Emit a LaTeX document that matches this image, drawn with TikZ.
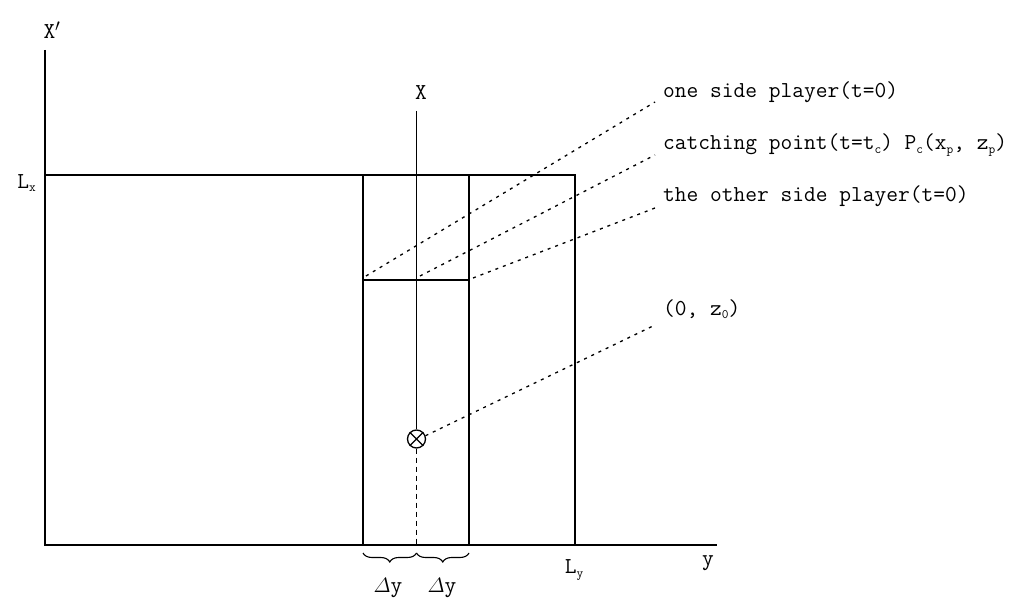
\documentclass[tikz,border=0pt]{standalone}
\usepackage{amsmath}
\usepackage{fontspec}
\usetikzlibrary{decorations.pathreplacing}
\newcommand\lowsub[1]{\raisebox{-0.35ex}{\fontsize{13}{13}\selectfont #1}}
\tikzset{
  axisline/.style={line width=1.6pt},
  frameline/.style={line width=1.6pt},
  leader/.style={line width=1.3pt, dash pattern=on 3pt off 5pt},
  lbl/.style={inner sep=0pt, font=\ttfamily\fontsize{22.8}{26}\selectfont},
  bracestyle/.style={line width=1.1pt, decorate, decoration={brace, mirror, amplitude=9pt}},
}
\begin{document}
\begin{tikzpicture}[x=1pt, y=-1pt]
\useasboundingbox (0,0) rectangle (1026,601);
% axes
\coordinate (o) at (45,545);
\coordinate (ytop) at (45,50);
\coordinate (xend) at (717,545);
\draw[axisline] (ytop) -- (o) -- (xend);
% L box
\coordinate (lx) at (45,175);
\coordinate (tr) at (575,175);
\coordinate (ly) at (575,545);
\draw[frameline] (lx) -- (tr) -- (ly);
% inner strip
\coordinate (a1) at (363,175);
\coordinate (a2) at (363,545);
\coordinate (b1) at (469,175);
\coordinate (b2) at (469,545);
\coordinate (m1) at (363,280);
\coordinate (m2) at (469,280);
\draw[frameline] (a1) -- (a2);
\draw[frameline] (b1) -- (b2);
\draw[frameline] (m1) -- (m2);
% center axis and marker
\coordinate (ctop) at (416.5,111);
\coordinate (cbot) at (416.5,545);
\node[circle, draw, line width=1.3pt, minimum size=18pt, inner sep=0pt] (ball) at (416.5,439) {};
\draw[line width=1.1pt] (ball.45) -- (ball.225) (ball.135) -- (ball.315);
\draw[frameline] (ctop) -- (ball.north);
\draw[line width=1.4pt, dash pattern=on 5pt off 4pt] (ball.south) -- (cbot);
% labels
\node[lbl] (Xp) at (52,30) {X$'$};
\node[lbl, anchor=east] (Lx) at (36,183) {L\lowsub{x}};
\node[lbl] (X) at (421,93) {X};
\node[lbl] (Ly) at (574,570) {L\lowsub{y}};
\node[lbl] (yl) at (708,563) {y};
\node[lbl] (d1) at (388,588) {$\varDelta$y};
\node[lbl] (d2) at (442,588) {$\varDelta$y};
% braces
\coordinate (br1) at (363,553);
\coordinate (br2) at (416.5,553);
\coordinate (br3) at (469,553);
\draw[bracestyle] (br1) -- (br2);
\draw[bracestyle] (br2) -- (br3);
% right labels
\node[lbl, anchor=west] (t1) at (663,92) {one side player(t=0)};
\node[lbl, anchor=west] (t2) at (663,145) {catching point(t=t\lowsub{c}) P\lowsub{c}(x\lowsub{p}, z\lowsub{p})};
\node[lbl, anchor=west] (t3) at (663,196) {the other side player(t=0)};
\node[lbl, anchor=west] (t4) at (663,309) {(0, z\lowsub{0})};
% leader lines
\coordinate (s1) at (366,276);
\coordinate (e1) at (655,102);
\coordinate (s2) at (420,276);
\coordinate (e2) at (655,155);
\coordinate (s3) at (473,278);
\coordinate (e3) at (655,208);
\coordinate (e4) at (655,325);
\draw[leader] (s1) -- (e1);
\draw[leader] (s2) -- (e2);
\draw[leader] (s3) -- (e3);
\draw[leader] (ball.20) -- (e4);
\end{tikzpicture}
\end{document}
